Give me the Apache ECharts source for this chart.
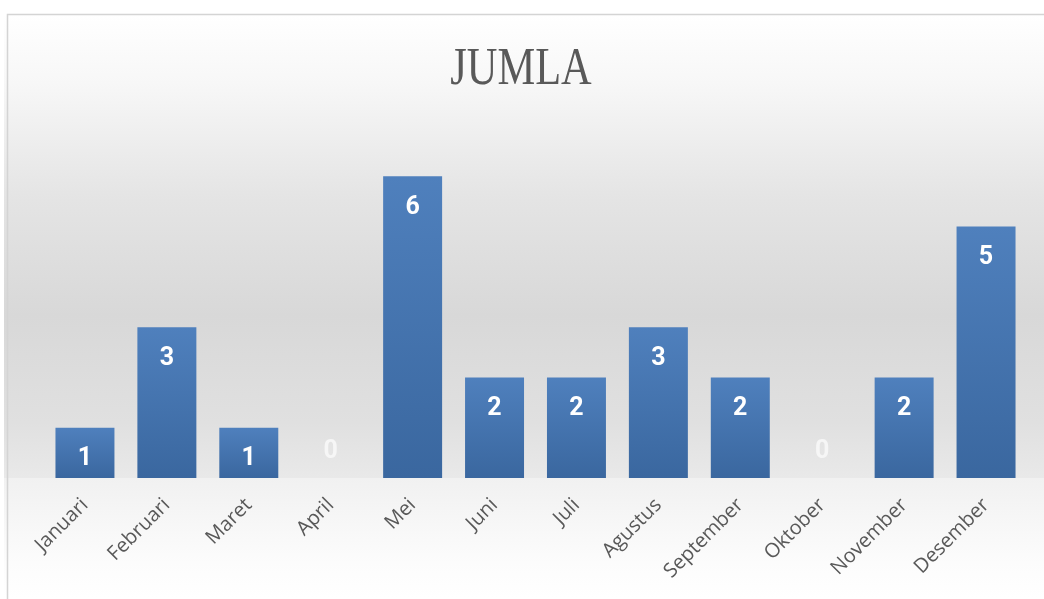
<!DOCTYPE html>
<html>
<head>
<meta charset="utf-8">
<title>JUMLA</title>
<script src="https://cdn.jsdelivr.net/npm/echarts@6/dist/echarts.min.js"></script>
<style>
  html, body { margin: 0; padding: 0; background: #fff; }
  #chart { width: 1044px; height: 599px; }
</style>
</head>
<body>
<div id="chart"></div>
<script>
  // data
  const months = ['Januari', 'Februari', 'Maret', 'April', 'Mei', 'Juni', 'Juli', 'Agustus', 'September', 'Oktober', 'November', 'Desember']
  const jumlah = [1, 3, 1, 0, 6, 2, 2, 3, 2, 0, 2, 5]
  const titleText = 'JUMLA'

  const chart = echarts.init(document.getElementById('chart'))

  // zero bars get their label above the base line
  const barData = jumlah.map(v => {
    if (v === 0) {
      return { value: v, label: { position: 'top', distance: 14, color: '#f6f6f6' } }
    }
    return v
  })

  const option = {
    animation: false,
    graphic: [
      // plot background
      {
        type: 'rect', z: -10, silent: true,
        shape: { x: 4, y: 14, width: 1040, height: 464 },
        style: {
          fill: new echarts.graphic.LinearGradient(0, 0, 0, 1, [
            { offset: 0, color: '#ffffff' },
            { offset: 0.15, color: '#f7f7f7' },
            { offset: 0.4, color: '#e4e4e4' },
            { offset: 0.65, color: '#d8d8d8' },
            { offset: 0.88, color: '#e0e0e0' },
            { offset: 1, color: '#e9e9e9' }
          ])
        }
      },
      // floor below the axis
      {
        type: 'rect', z: -10, silent: true,
        shape: { x: 4, y: 478, width: 1040, height: 121 },
        style: {
          fill: new echarts.graphic.LinearGradient(0, 0, 0, 1, [
            { offset: 0, color: '#f1f1f1' },
            { offset: 0.7, color: '#fcfcfc' },
            { offset: 1, color: '#ffffff' }
          ])
        }
      },
      // border
      {
        type: 'polyline', z: -9, silent: true,
        shape: { points: [[7.5, 599], [7.5, 14.5], [1044, 14.5]] },
        style: { stroke: '#d4d4d4', lineWidth: 1.5, fill: null }
      },
      // title
      {
        type: 'text', z: 10, silent: true,
        x: 521, y: 70, scaleX: 0.8, originX: 0, originY: 0,
        style: {
          text: titleText,
          fill: '#595959',
          font: '53px "Liberation Serif"',
          align: 'center',
          verticalAlign: 'middle'
        }
      }
    ],
    grid: {
      left: 44,
      right: 17,
      top: 126,
      bottom: 121
    },
    xAxis: {
      type: 'category',
      data: months,
      axisLine: { show: false },
      axisTick: { show: false },
      axisLabel: {
        interval: 0,
        rotate: 45,
        margin: 24,
        color: '#595959',
        fontFamily: 'Open Sans',
        fontSize: 20
      }
    },
    yAxis: {
      type: 'value',
      min: 0,
      max: 7,
      interval: 1,
      show: false,
      splitLine: { show: false }
    },
    series: [
      {
        type: 'bar',
        data: barData,
        barWidth: '72%',
        itemStyle: {
          color: new echarts.graphic.LinearGradient(0, 0, 0, 1, [
            { offset: 0, color: '#4f80bd' },
            { offset: 1, color: '#3a679f' }
          ])
        },
        label: {
          show: true,
          position: 'insideTop',
          distance: 19,
          color: '#ffffff',
          fontFamily: 'Roboto',
          fontWeight: 'bold',
          fontSize: 25
        }
      }
    ]
  }
  chart.setOption(option)

  window.addEventListener('resize', () => {
    chart.resize()
  })
</script>
</body>
</html>
